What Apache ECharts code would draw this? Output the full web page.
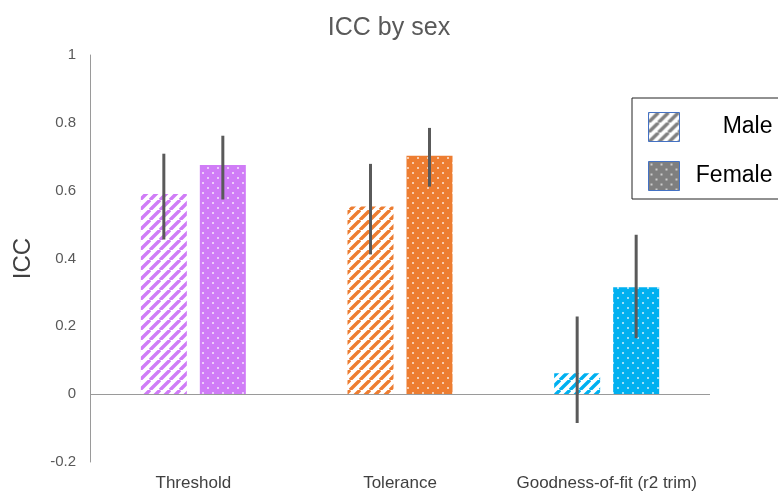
<!DOCTYPE html>
<html><head><meta charset="utf-8">
<script src="https://cdn.jsdelivr.net/npm/echarts@6/dist/echarts.min.js"></script>
<style>html,body{margin:0;padding:0;background:#fff}#c{width:778px;height:494px}</style>
</head><body><div id="c"></div>
<script>
const categories = ['Threshold', 'Tolerance', 'Goodness-of-fit (r2 trim)'];
const seriesNames = ['Male', 'Female'];
const maleICC = [0.59, 0.553, 0.062];
const maleLow = [0.456, 0.412, -0.085];
const maleHigh = [0.709, 0.679, 0.229];
const femaleICC = [0.676, 0.703, 0.315];
const femaleLow = [0.574, 0.612, 0.165];
const femaleHigh = [0.762, 0.785, 0.47];
const yTicks = [-0.2, 0, 0.2, 0.4, 0.6, 0.8, 1];
const catColors = ['#D07CF7', '#ED7D31', '#00B0F0'];

function hatch(color) {
  const s = 10, c = document.createElement('canvas');
  c.width = s; c.height = s;
  const g = c.getContext('2d');
  g.fillStyle = '#fff'; g.fillRect(0, 0, s, s);
  g.strokeStyle = color; g.lineWidth = 3.4;
  g.beginPath();
  for (let k = -1; k <= 1; k++) {
    g.moveTo(k * s, s); g.lineTo(k * s + s, 0);
  }
  g.stroke();
  return { image: c, repeat: 'repeat' };
}
function dots(color) {
  const s = 10, c = document.createElement('canvas');
  c.width = s; c.height = s;
  const g = c.getContext('2d');
  g.fillStyle = color; g.fillRect(0, 0, s, s);
  g.fillStyle = 'rgba(255,255,255,0.6)';
  g.fillRect(2, 2, 2, 2);
  g.fillRect(7, 7, 2, 2);
  return { image: c, repeat: 'repeat' };
}

const barW = 46, gapPx = 13;
const half = (barW + gapPx) / 2;

function errSeries(low, high, off) {
  return {
    type: 'custom', silent: true, z: 5,
    data: categories.map((c, i) => [i, low[i], high[i]]),
    renderItem(params, api) {
      const a = api.coord([api.value(0), api.value(1)]);
      const b = api.coord([api.value(0), api.value(2)]);
      return { type: 'line', shape: { x1: a[0] + off, y1: a[1], x2: b[0] + off, y2: b[1] },
        style: { stroke: '#5a5a5a', lineWidth: 3 } };
    }
  };
}

const chart = echarts.init(document.getElementById('c'));
chart.setOption({
  animation: false,
  title: { text: 'ICC by sex', left: 'center', top: 11,
    textStyle: { fontFamily: 'Liberation Sans', fontSize: 25, fontWeight: 'normal', color: '#595959' } },
  grid: { left: 90, right: 68, top: 55, bottom: 32 },
  legend: {
    orient: 'vertical', left: 632, top: 98,
    padding: [14, 16, 8, 16], itemGap: 19,
    itemWidth: 31, itemHeight: 29,
    borderColor: '#222', borderWidth: 1, backgroundColor: '#fff',
    formatter: n => '{t|' + n + '}',
    textStyle: { fontFamily: 'Liberation Sans', fontSize: 23, color: '#000',
      rich: { t: { width: 88, align: 'right', fontFamily: 'Liberation Sans', fontSize: 23, color: '#000' } } },
    data: [
      { name: 'Male', icon: 'rect', itemStyle: { color: hatch('#808080'), borderColor: '#4472C4', borderWidth: 1 } },
      { name: 'Female', icon: 'rect', itemStyle: { color: dots('#7f7f7f'), borderColor: '#4472C4', borderWidth: 1 } }
    ]
  },
  xAxis: {
    type: 'category', data: categories,
    axisLine: { show: false }, axisTick: { show: false },
    axisLabel: { interval: 0, margin: 13, fontFamily: 'Liberation Sans', fontSize: 17, color: '#404040' }
  },
  yAxis: {
    type: 'value', min: yTicks[0], max: yTicks[yTicks.length - 1], interval: 0.2,
    name: 'ICC', nameLocation: 'middle', nameRotate: 90, nameGap: 55,
    nameTextStyle: { fontFamily: 'Liberation Sans', fontSize: 24, color: '#404040' },
    axisLine: { show: true, lineStyle: { color: '#9a9a9a', width: 1 } },
    axisTick: { show: false }, splitLine: { show: false },
    axisLabel: { margin: 14, fontFamily: 'Liberation Sans', fontSize: 15, color: '#595959',
      formatter: v => String(Math.round(v * 10) / 10) }
  },
  series: [
    { name: 'Male', type: 'bar', barWidth: barW, barGap: (gapPx / barW * 100) + '%',
      data: maleICC.map((v, i) => ({ value: v, itemStyle: { color: hatch(catColors[i]) } })),
      markLine: { silent: true, symbol: 'none', label: { show: false },
        lineStyle: { color: '#9a9a9a', type: 'solid', width: 1 }, data: [{ yAxis: 0 }] } },
    { name: 'Female', type: 'bar', barWidth: barW,
      data: femaleICC.map((v, i) => ({ value: v, itemStyle: { color: dots(catColors[i]) } })) },
    errSeries(maleLow, maleHigh, -half),
    errSeries(femaleLow, femaleHigh, half)
  ]
});
</script></body></html>
